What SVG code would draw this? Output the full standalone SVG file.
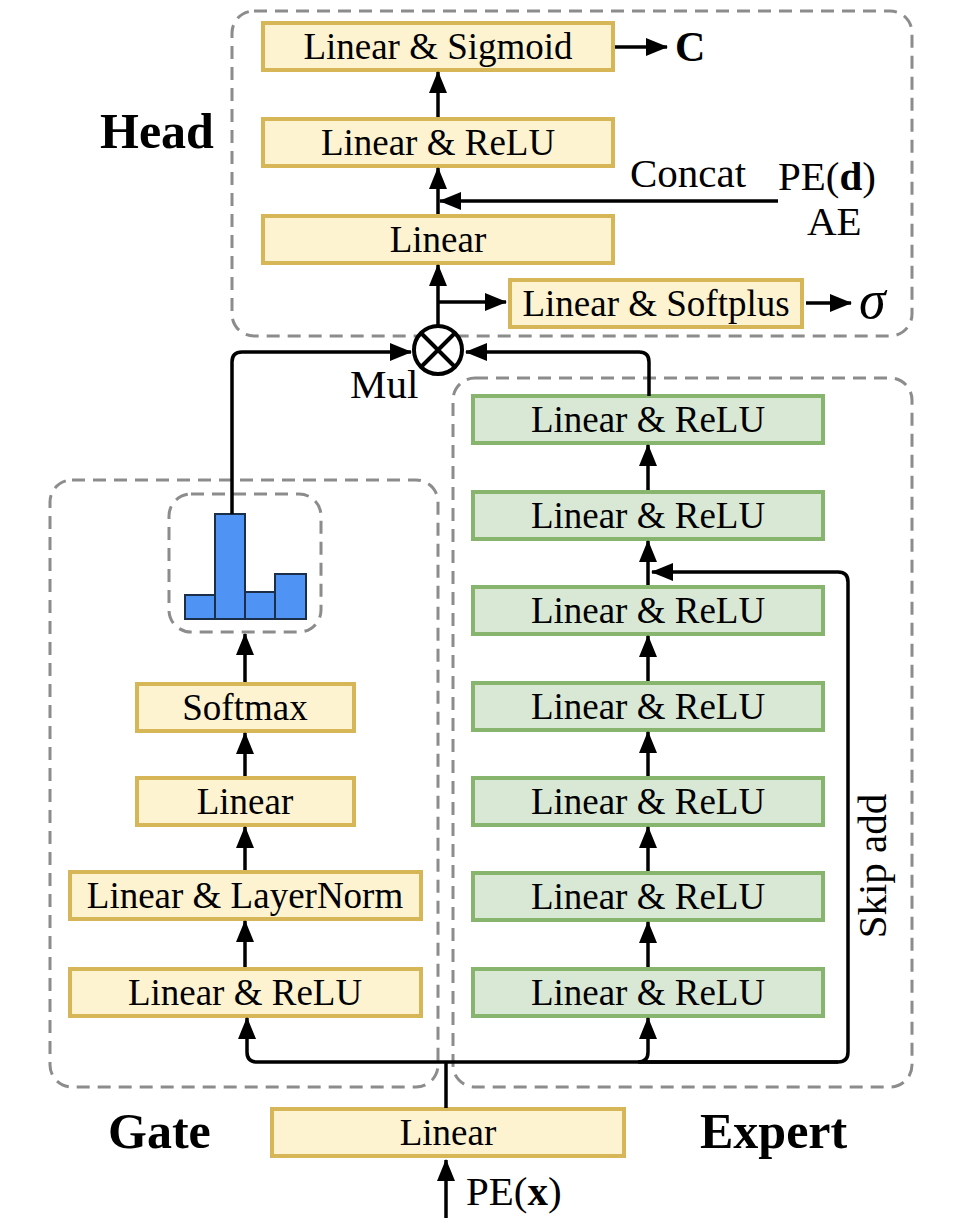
<svg xmlns="http://www.w3.org/2000/svg" width="962" height="1228" viewBox="0 0 962 1228">
<defs>
<style>
.dash{fill:none;stroke:#8c8c8c;stroke-width:3;stroke-dasharray:13 8}
.y{fill:#fdf3d1;stroke:#d6b656;stroke-width:4}
.g{fill:#d8e8d5;stroke:#87b56d;stroke-width:4}
.t{font-family:"Liberation Serif","Times New Roman",serif;font-size:37px;fill:#000;text-anchor:middle}
.lb{font-family:"Liberation Serif","Times New Roman",serif;font-size:41px;fill:#000}
.bd{font-family:"Liberation Serif","Times New Roman",serif;font-size:50px;font-weight:bold;fill:#000}
.c{fill:none;stroke:#000;stroke-width:3.5}
.bar{fill:#4f94f5;stroke:#1c2f48;stroke-width:2}
</style>
<marker id="ah" viewBox="0 0 22 18" refX="21" refY="9" markerWidth="22" markerHeight="18" markerUnits="userSpaceOnUse" orient="auto">
<path d="M0,0 L22,9 L0,18 z" fill="#000"/>
</marker>
</defs>
<rect width="962" height="1228" fill="#fff"/>

<g id="containers">
<rect id="head-box" class="dash" x="232" y="11" width="680" height="325" rx="22"/>
<rect id="gate-box" class="dash" x="50" y="480" width="388" height="607" rx="22"/>
<rect id="expert-box" class="dash" x="453" y="378" width="459" height="709" rx="22"/>
<rect id="hist-box" class="dash" x="169" y="494" width="152" height="138" rx="22"/>
</g>

<g id="labels">
<text class="bd" x="100" y="148">Head</text>
<text class="bd" x="108" y="1148">Gate</text>
<text class="bd" x="700" y="1148">Expert</text>
<text class="lb" x="630" y="187">Concat</text>
<text class="lb" x="778" y="190">PE(<tspan font-weight="bold">d</tspan>)</text>
<text class="lb" x="807" y="235">AE</text>
<text class="lb" x="350" y="398">Mul</text>
<text class="lb" x="466" y="1205">PE(<tspan font-weight="bold">x</tspan>)</text>
<text class="lb" transform="translate(886,866) rotate(-90)" text-anchor="middle">Skip add</text>
<text x="675" y="61" font-family="'Liberation Serif',serif" font-size="42" font-weight="bold">C</text>
<text x="859" y="318" font-family="'Liberation Serif',serif" font-size="54" font-style="italic">σ</text>
</g>

<g id="head-sigmoid"><rect class="y" x="263" y="23" width="350" height="47"/><text class="t" x="438" y="59">Linear &amp; Sigmoid</text></g>
<g id="head-relu"><rect class="y" x="263" y="119" width="350" height="47"/><text class="t" x="438" y="155">Linear &amp; ReLU</text></g>
<g id="head-linear"><rect class="y" x="263" y="216" width="350" height="47"/><text class="t" x="438" y="252">Linear</text></g>
<g id="head-softplus"><rect class="y" x="510" y="280" width="292" height="47"/><text class="t" x="656" y="316">Linear &amp; Softplus</text></g>

<g id="mul">
<circle cx="438" cy="350" r="24" fill="#fff" stroke="#000" stroke-width="4"/>
<path d="M421,333 L455,367 M455,333 L421,367" stroke="#000" stroke-width="4"/>
</g>

<g id="histogram">
<rect class="bar" x="185" y="595" width="30" height="24"/>
<rect class="bar" x="215" y="514" width="30" height="105"/>
<rect class="bar" x="245" y="592" width="30" height="27"/>
<rect class="bar" x="275" y="574" width="31" height="45"/>
</g>

<g id="gate-softmax"><rect class="y" x="137" y="684" width="217" height="47"/><text class="t" x="245" y="720">Softmax</text></g>
<g id="gate-linear"><rect class="y" x="137" y="778" width="217" height="47"/><text class="t" x="245" y="814">Linear</text></g>
<g id="gate-layernorm"><rect class="y" x="70" y="872" width="351" height="47"/><text class="t" x="245" y="908">Linear &amp; LayerNorm</text></g>
<g id="gate-relu"><rect class="y" x="70" y="969" width="351" height="47"/><text class="t" x="245" y="1005">Linear &amp; ReLU</text></g>

<g id="expert-1"><rect class="g" x="473" y="396" width="350" height="47"/><text class="t" x="648" y="432">Linear &amp; ReLU</text></g>
<g id="expert-2"><rect class="g" x="473" y="492" width="350" height="47"/><text class="t" x="648" y="528">Linear &amp; ReLU</text></g>
<g id="expert-3"><rect class="g" x="473" y="587" width="350" height="47"/><text class="t" x="648" y="623">Linear &amp; ReLU</text></g>
<g id="expert-4"><rect class="g" x="473" y="683" width="350" height="47"/><text class="t" x="648" y="719">Linear &amp; ReLU</text></g>
<g id="expert-5"><rect class="g" x="473" y="778" width="350" height="47"/><text class="t" x="648" y="814">Linear &amp; ReLU</text></g>
<g id="expert-6"><rect class="g" x="473" y="873" width="350" height="47"/><text class="t" x="648" y="909">Linear &amp; ReLU</text></g>
<g id="expert-7"><rect class="g" x="473" y="969" width="350" height="47"/><text class="t" x="648" y="1005">Linear &amp; ReLU</text></g>

<g id="input-linear"><rect class="y" x="272" y="1109" width="352" height="47"/><text class="t" x="448" y="1145">Linear</text></g>

<g id="connectors">
<line class="c" x1="438" y1="117" x2="438" y2="72" marker-end="url(#ah)"/>
<line class="c" x1="438" y1="214" x2="438" y2="168" marker-end="url(#ah)"/>
<line class="c" x1="778" y1="201" x2="440" y2="201" marker-end="url(#ah)"/>
<line class="c" x1="438" y1="326" x2="438" y2="265" marker-end="url(#ah)"/>
<line class="c" x1="438" y1="302" x2="506" y2="302" marker-end="url(#ah)"/>
<line class="c" x1="615" y1="47" x2="667" y2="47" marker-end="url(#ah)"/>
<line class="c" x1="806" y1="303" x2="851" y2="303" marker-end="url(#ah)"/>
<path class="c" d="M232,514 L232,362 Q232,352 242,352 L411,352" marker-end="url(#ah)"/>
<path class="c" d="M649,396 L649,362 Q649,352 639,352 L466,352" marker-end="url(#ah)"/>
<line class="c" x1="245" y1="682" x2="245" y2="634" marker-end="url(#ah)"/>
<line class="c" x1="245" y1="776" x2="245" y2="733" marker-end="url(#ah)"/>
<line class="c" x1="245" y1="870" x2="245" y2="827" marker-end="url(#ah)"/>
<line class="c" x1="245" y1="967" x2="245" y2="921" marker-end="url(#ah)"/>
<line class="c" x1="648" y1="490" x2="648" y2="445" marker-end="url(#ah)"/>
<line class="c" x1="648" y1="585" x2="648" y2="541" marker-end="url(#ah)"/>
<line class="c" x1="648" y1="681" x2="648" y2="636" marker-end="url(#ah)"/>
<line class="c" x1="648" y1="776" x2="648" y2="732" marker-end="url(#ah)"/>
<line class="c" x1="648" y1="871" x2="648" y2="827" marker-end="url(#ah)"/>
<line class="c" x1="648" y1="967" x2="648" y2="922" marker-end="url(#ah)"/>
<path class="c" d="M446,1108 L446,1062"/>
<path class="c" d="M838,1062 L257,1062 Q247,1062 247,1052 L247,1018" marker-end="url(#ah)"/>
<path class="c" d="M638,1062 Q648,1062 648,1052 L648,1018" marker-end="url(#ah)"/>
<path class="c" d="M640,1062 L838,1062 Q848,1062 848,1052 L848,582 Q848,572 838,572 L652,572" marker-end="url(#ah)"/>
<line class="c" x1="446" y1="1218" x2="446" y2="1160" marker-end="url(#ah)"/>
</g>
</svg>
